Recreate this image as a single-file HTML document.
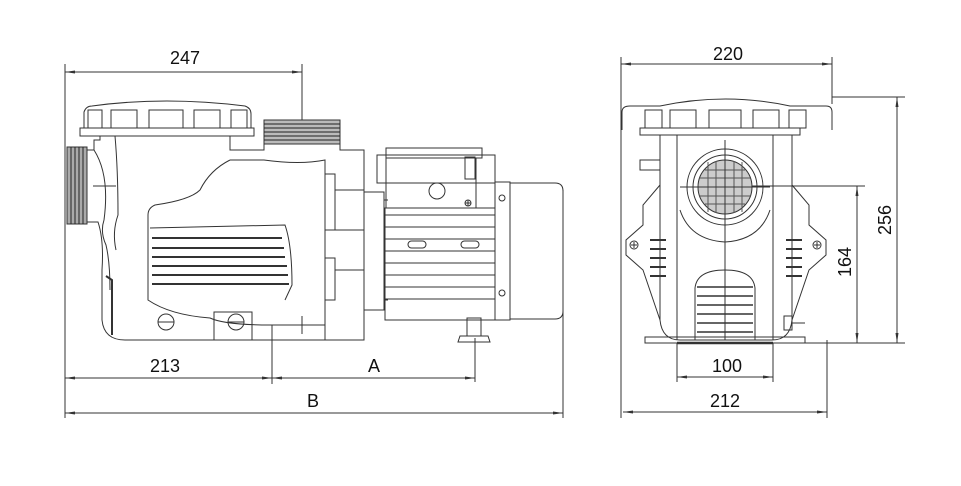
<!DOCTYPE html>
<html><head><meta charset="utf-8"><style>
html,body{margin:0;padding:0;background:#fff;}
svg{display:block;}
text{font-family:"Liberation Sans",Arial,sans-serif;font-size:18px;fill:#111;}
</style></head><body>
<svg width="961" height="486" viewBox="0 0 961 486" xmlns="http://www.w3.org/2000/svg">
<defs>
<marker id="a" viewBox="0 0 10 6" refX="10" refY="3" markerWidth="10" markerHeight="6" orient="auto-start-reverse"><path d="M0,1.5 L10,3 L0,4.5 Z" fill="#333"/></marker>
</defs>
<g stroke="#333" stroke-width="1" fill="none">
<!-- ===== LEFT VIEW dims ===== -->
<line x1="65" y1="64" x2="65" y2="418"/>
<line x1="302" y1="64" x2="302" y2="122"/>
<line x1="65" y1="72" x2="302" y2="72" marker-start="url(#a)" marker-end="url(#a)"/>
<line x1="272" y1="325" x2="272" y2="384"/>
<line x1="475" y1="338" x2="475" y2="382"/>
<line x1="563" y1="190" x2="563" y2="418"/>
<line x1="65" y1="378" x2="272" y2="378" marker-start="url(#a)" marker-end="url(#a)"/>
<line x1="272" y1="378" x2="475" y2="378" marker-start="url(#a)" marker-end="url(#a)"/>
<line x1="65" y1="413" x2="563" y2="413" marker-start="url(#a)" marker-end="url(#a)"/>

<!-- ===== LEFT pump ===== -->
<!-- lid -->
<path d="M84,128 L84,112 Q86,106 92,106 Q165,96 245,106 Q251,108 251,114 L251,128"/>
<rect x="80" y="128" width="174" height="8"/>
<rect x="88" y="110" width="14" height="18"/><rect x="111" y="110" width="26" height="18"/><rect x="149" y="110" width="34" height="18"/><rect x="194" y="110" width="26" height="18"/><rect x="231" y="110" width="16" height="18"/>
<!-- top thread -->
<rect x="264" y="120" width="76" height="24" fill="#bbb"/>
<g stroke="#222"><line x1="264" y1="124" x2="340" y2="124"/><line x1="264" y1="128" x2="340" y2="128"/><line x1="264" y1="132" x2="340" y2="132"/><line x1="264" y1="136" x2="340" y2="136"/><line x1="264" y1="140" x2="340" y2="140"/></g>
<!-- left thread -->
<rect x="67" y="147" width="20" height="77" fill="#aaa"/>
<g stroke="#222"><line x1="71" y1="147" x2="71" y2="224"/><line x1="75" y1="147" x2="75" y2="224"/><line x1="79" y1="147" x2="79" y2="224"/><line x1="83" y1="147" x2="83" y2="224"/></g>
<!-- housing -->
<path d="M87,150 L94,150 L94,140 L100,140 L100,136"/>
<path d="M87,222 L98,222 Q104,240 102,270 L102,320 Q104,340 125,340 L364,340 L364,150 L340,150 L340,144 L264,144 L264,150 L230,150 L230,136"/>
<path d="M94,150 Q110,175 104,220 Q100,232 106,245 Q110,262 110,290"/>
<path d="M115,136 Q118,170 118,215 Q112,232 116,250"/>
<line x1="93" y1="186" x2="116" y2="186"/>
<path d="M230,160 L264,160 Q300,165 325,160 L325,340"/>
<path d="M230,160 Q210,170 200,190 Q190,200 155,205 Q148,208 148,215 L148,300 Q170,315 210,318 Q225,325 270,325 L325,325"/>
<path d="M150,228 L285,225 Q292,245 292,285 L285,300"/>
<g stroke-width="2"><line x1="152" y1="238" x2="282" y2="238"/><line x1="152" y1="248" x2="284" y2="248"/><line x1="152" y1="257" x2="285" y2="257"/><line x1="152" y1="266" x2="287" y2="266"/><line x1="152" y1="275" x2="288" y2="275"/><line x1="152" y1="284" x2="289" y2="284"/></g>
<path d="M106,276 L112,280 L112,335" stroke-width="2"/>
<circle cx="166" cy="322" r="8"/><line x1="158" y1="322" x2="174" y2="322"/>
<circle cx="236" cy="322" r="8"/><line x1="228" y1="322" x2="244" y2="322"/>
<path d="M214,340 L214,312 L252,312 L252,340"/>
<line x1="302" y1="316" x2="302" y2="334"/>
<!-- casing steps -->
<path d="M325,174 L335,174 L335,190 L364,190"/>
<line x1="335" y1="190" x2="335" y2="230"/><line x1="325" y1="230" x2="364" y2="230"/>
<path d="M325,258 L335,258 L335,300 L325,300"/><line x1="335" y1="270" x2="364" y2="270"/>
<!-- flange -->
<rect x="364" y="192" width="20" height="118"/>
<line x1="384" y1="200" x2="388" y2="200"/><line x1="384" y1="300" x2="388" y2="300"/>
<!-- motor box -->
<rect x="377" y="155" width="118" height="28"/>
<rect x="386" y="148" width="96" height="10"/>
<rect x="386" y="158" width="90" height="50"/>
<circle cx="437" cy="191" r="8"/>
<rect x="465" y="157" width="10" height="22"/>
<circle cx="468" cy="203" r="3"/><line x1="465" y1="203" x2="471" y2="203"/><line x1="468" y1="200" x2="468" y2="206"/>
<!-- motor body -->
<rect x="385" y="208" width="110" height="112"/>
<g><line x1="385" y1="215" x2="495" y2="215"/><line x1="385" y1="227" x2="495" y2="227"/><line x1="385" y1="239" x2="495" y2="239"/><line x1="385" y1="251" x2="495" y2="251"/><line x1="385" y1="263" x2="495" y2="263"/><line x1="385" y1="275" x2="495" y2="275"/><line x1="385" y1="287" x2="495" y2="287"/><line x1="385" y1="299" x2="495" y2="299"/></g>
<rect x="408" y="241" width="18" height="7" rx="3.5"/><rect x="461" y="241" width="18" height="7" rx="3.5"/>
<!-- fan cover -->
<rect x="495" y="182" width="15" height="138"/>
<path d="M510,183 L555,183 Q563,183 563,191 L563,311 Q563,319 555,319 L510,319"/>
<circle cx="502" cy="198" r="3"/><circle cx="502" cy="293" r="3"/>
<!-- foot -->
<rect x="467" y="318" width="14" height="18"/>
<path d="M460,336 L488,336 L490,342 L458,342 Z"/>

<!-- ===== RIGHT VIEW dims ===== -->
<line x1="621" y1="57" x2="621" y2="418"/>
<line x1="832" y1="57" x2="832" y2="104"/>
<line x1="827" y1="340" x2="827" y2="418"/>
<line x1="621" y1="64" x2="832" y2="64" marker-start="url(#a)" marker-end="url(#a)"/>
<line x1="623" y1="412" x2="827" y2="412" marker-start="url(#a)" marker-end="url(#a)"/>
<line x1="677" y1="343" x2="677" y2="382"/><line x1="773" y1="343" x2="773" y2="382"/>
<line x1="677" y1="377" x2="773" y2="377" marker-start="url(#a)" marker-end="url(#a)"/>
<line x1="832" y1="97" x2="905" y2="97"/>
<line x1="805" y1="343" x2="905" y2="343"/>
<line x1="897" y1="97" x2="897" y2="343" marker-start="url(#a)" marker-end="url(#a)"/>
<line x1="725" y1="186" x2="865" y2="186"/>
<line x1="857" y1="186" x2="857" y2="343" marker-start="url(#a)" marker-end="url(#a)"/>

<!-- ===== RIGHT pump ===== -->
<path d="M622,130 L622,112 Q622,106 630,106 L660,106 Q726,92 790,106 L826,106 Q832,106 832,112 L832,130"/>
<rect x="640" y="128" width="160" height="7"/>
<rect x="645" y="110" width="17" height="18"/><rect x="670" y="110" width="26" height="18"/><rect x="709" y="110" width="32" height="18"/><rect x="753" y="110" width="26" height="18"/><rect x="789" y="110" width="17" height="18"/>
<path d="M660,135 L660,320 Q662,340 680,340 L772,340 Q790,340 792,320 L792,135"/>
<line x1="677" y1="135" x2="677" y2="340"/><line x1="773" y1="135" x2="773" y2="340"/>
<circle cx="725" cy="187" r="38"/><circle cx="725" cy="187" r="32"/>
<path d="M680,210 Q690,240 725,242 Q760,240 770,210"/>
<circle cx="725" cy="187" r="27" fill="#ccc"/>
<g stroke="#555"><line x1="705" y1="170" x2="745" y2="170"/><line x1="700" y1="178" x2="750" y2="178"/><line x1="698" y1="187" x2="752" y2="187"/><line x1="700" y1="196" x2="750" y2="196"/><line x1="705" y1="204" x2="745" y2="204"/><line x1="708" y1="162" x2="708" y2="212"/><line x1="716" y1="161" x2="716" y2="213"/><line x1="725" y1="160" x2="725" y2="214"/><line x1="734" y1="161" x2="734" y2="213"/><line x1="742" y1="162" x2="742" y2="212"/></g>
<line x1="725" y1="140" x2="725" y2="340"/>
<line x1="680" y1="187" x2="770" y2="187"/>
<!-- grille -->
<path d="M695,340 L695,288 Q697,270 725,270 Q753,270 755,288 L755,340"/>
<g stroke-width="1.5"><line x1="697" y1="287" x2="753" y2="287"/><line x1="697" y1="296" x2="753" y2="296"/><line x1="697" y1="305" x2="753" y2="305"/><line x1="697" y1="314" x2="753" y2="314"/><line x1="697" y1="323" x2="753" y2="323"/><line x1="697" y1="332" x2="753" y2="332"/></g>
<!-- wings -->
<path d="M660,185 L643,205 L643,225 L626,240 L626,255 L643,270 L660,320"/>
<path d="M792,185 L809,205 L809,225 L826,240 L826,255 L809,270 L792,320"/>
<path d="M660,160 L640,160 L640,170 L660,170"/>
<circle cx="634" cy="245" r="4"/><line x1="631" y1="245" x2="637" y2="245"/><line x1="634" y1="242" x2="634" y2="248"/>
<circle cx="817" cy="245" r="4"/><line x1="814" y1="245" x2="820" y2="245"/><line x1="817" y1="242" x2="817" y2="248"/>
<g stroke-width="2"><line x1="650" y1="240" x2="666" y2="240"/><line x1="650" y1="249" x2="666" y2="249"/><line x1="650" y1="258" x2="666" y2="258"/><line x1="650" y1="267" x2="666" y2="267"/><line x1="650" y1="276" x2="666" y2="276"/><line x1="786" y1="240" x2="802" y2="240"/><line x1="786" y1="249" x2="802" y2="249"/><line x1="786" y1="258" x2="802" y2="258"/><line x1="786" y1="267" x2="802" y2="267"/><line x1="786" y1="276" x2="802" y2="276"/></g>
<rect x="784" y="316" width="8" height="14"/><line x1="792" y1="323" x2="805" y2="323"/>
<!-- base -->
<rect x="645" y="337" width="160" height="6"/>
<line x1="677" y1="343" x2="773" y2="343" stroke-width="2.5"/>
</g>
<!-- labels -->
<text x="185" y="64" text-anchor="middle">247</text>
<text x="165" y="372" text-anchor="middle">213</text>
<text x="374" y="372" text-anchor="middle">A</text>
<text x="313" y="407" text-anchor="middle">B</text>
<text x="728" y="60" text-anchor="middle">220</text>
<text x="727" y="372" text-anchor="middle">100</text>
<text x="725" y="407" text-anchor="middle">212</text>
<text transform="translate(891,220) rotate(-90)" text-anchor="middle">256</text>
<text transform="translate(851,262) rotate(-90)" text-anchor="middle">164</text>
</svg>
</body></html>
